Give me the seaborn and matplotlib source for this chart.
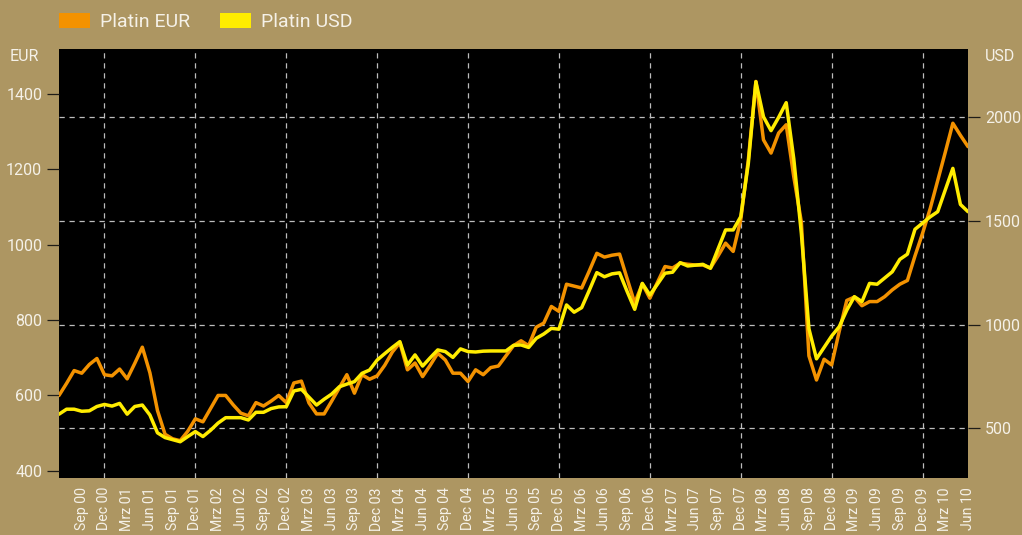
import pandas as pd
import seaborn as sns
import matplotlib.pyplot as plt
from matplotlib.patches import Patch
from matplotlib.ticker import FixedLocator

# monthly platinum prices, Jun 2000 .. Jun 2010
platin_eur = [
    600, 632, 666, 659, 682, 698, 655, 652, 670, 644, 685, 728,
    660, 560, 497, 485, 480, 505, 538, 530, 565, 600, 600, 575,
    553, 546, 581, 572, 585, 600, 581, 633, 638, 580, 551, 551,
    585, 620, 655, 606, 655, 643, 652, 680, 715, 740, 668, 686,
    650, 680, 712, 694, 659, 659, 637, 668, 655, 674, 678, 705,
    732, 745, 732, 781, 792, 836, 823, 895, 890, 885, 930, 977,
    967, 972, 975, 910, 845, 896, 858, 900, 942, 938, 951, 948,
    946, 946, 938, 970, 1004, 982, 1066, 1225, 1433, 1278, 1243, 1296,
    1318, 1180, 1060, 705, 641, 696, 681, 770, 852, 861, 838, 849,
    849, 862, 880, 895, 905, 970, 1030, 1095, 1170, 1245, 1322, 1290,
    1260,
]
platin_usd = [
    568, 592, 592, 582, 584, 605, 615, 607, 620, 568, 605, 612,
    564, 478, 455, 445, 435, 460, 484, 460, 490, 525, 551, 551,
    551, 540, 577, 577, 595, 603, 604, 680, 688, 650, 612, 640,
    665, 700, 713, 725, 765, 781, 829, 860, 890, 918, 805, 854,
    800, 840, 878, 870, 842, 883, 870, 868, 872, 873, 873, 873,
    900, 902, 890, 934, 955, 982, 978, 1095, 1060, 1082, 1165, 1251,
    1231, 1245, 1250, 1160, 1074, 1199, 1143, 1195, 1248, 1253, 1299, 1283,
    1287, 1291, 1272, 1365, 1457, 1457, 1521, 1778, 2172, 2003, 1936, 2000,
    2071, 1800, 1440, 980, 835, 890, 945, 990, 1070, 1135, 1111, 1199,
    1195, 1225, 1255, 1315, 1340, 1460, 1490, 1520, 1545, 1650, 1754, 1580,
    1545,
]
tick_labels = [
    "Sep 00", "Dec 00", "Mrz 01", "Jun 01", "Sep 01", "Dec 01", "Mrz 02", "Jun 02",
    "Sep 02", "Dec 02", "Mrz 03", "Jun 03", "Sep 03", "Dec 03", "Mrz 04", "Jun 04",
    "Sep 04", "Dec 04", "Mrz 05", "Jun 05", "Sep 05", "Dec 05", "Mrz 06", "Jun 06",
    "Sep 06", "Dec 06", "Mrz 07", "Jun 07", "Sep 07", "Dec 07", "Mrz 08", "Jun 08",
    "Sep 08", "Dec 08", "Mrz 09", "Jun 09", "Sep 09", "Dec 09", "Mrz 10", "Jun 10",
]
eur_ticks = [400, 600, 800, 1000, 1200, 1400]
usd_ticks = [500, 1000, 1500, 2000]

BG = "#ad9662"
TXT = "#f5f1e8"
ORANGE = "#f39200"
YELLOW = "#ffec00"
TICK = "#1e1c18"
GRID = "#bdbdbd"

eur_lim = (381, 1519)
usd_lim = (260, 2330)

df = pd.DataFrame({"monat": range(len(platin_eur)), "eur": platin_eur, "usd": platin_usd})

sns.set_theme(style="dark")
plt.rcParams["font.family"] = ["Roboto", "DejaVu Sans"]

fig = plt.figure(figsize=(10.22, 5.35), dpi=100, facecolor=BG)
ax = fig.add_axes([59 / 1022, 1 - 478 / 535, 909 / 1022, 429 / 535])
ax.set_facecolor("black")
ax2 = ax.twinx()

sns.lineplot(data=df, x="monat", y="eur", ax=ax, color=ORANGE, linewidth=2.5)
sns.lineplot(data=df, x="monat", y="usd", ax=ax2, color=YELLOW, linewidth=2.5)

ax.set_xlim(0, len(platin_eur) - 1)
ax.set_ylim(*eur_lim)
ax2.set_ylim(*usd_lim)
for a in (ax, ax2):
    a.set_xlabel("")
    a.set_ylabel("")
    for s in a.spines.values():
        s.set_visible(False)

# quarterly labels, December gridlines (these sit on major tick spots)
ax.set_xticks(range(3, len(platin_eur), 3))
ax.set_xticklabels(tick_labels)
ax.xaxis.remove_overlapping_locs = False
ax.xaxis.set_minor_locator(FixedLocator(range(6, len(platin_eur), 12)))

# horizontal gridlines belong to the USD scale; put them on the bottom axes
scale = (eur_lim[1] - eur_lim[0]) / (usd_lim[1] - usd_lim[0])
ax.yaxis.set_minor_locator(FixedLocator([eur_lim[0] + (u - usd_lim[0]) * scale for u in usd_ticks]))
ax.set_yticks(eur_ticks)
ax2.set_yticks(usd_ticks)

ax.grid(False, which="major")
ax2.grid(False)
ax.grid(True, which="minor", color=GRID, linewidth=0.9, linestyle=(0, (4.2, 3.8)))

ax.tick_params(axis="x", which="both", bottom=True, length=0, pad=6.5,
               labelsize=10.2, labelcolor=TXT, labelrotation=90)
ax.tick_params(axis="y", which="major", left=True, direction="out", length=8.6,
               width=0.9, color=TICK, pad=3.5, labelsize=11.5, labelcolor=TXT)
ax.tick_params(axis="y", which="minor", left=False, length=0)
ax2.tick_params(axis="y", right=True, direction="out", length=8.6,
                width=0.9, color=TICK, pad=3.5, labelsize=11.5, labelcolor=TXT)

fig.text(10 / 1022, 1 - 57 / 535, "EUR", color=TXT, fontsize=11.5, va="center", ha="left")
fig.text(985 / 1022, 1 - 57 / 535, "USD", color=TXT, fontsize=11.5, va="center", ha="left")

handles = [Patch(facecolor=ORANGE, edgecolor="none", label="Platin EUR"),
           Patch(facecolor=YELLOW, edgecolor="none", label="Platin USD")]
fig.legend(handles=handles, loc="upper left", bbox_to_anchor=(59 / 1022, 1 - 13 / 535),
           ncol=2, frameon=False, fontsize=14, labelcolor=TXT,
           handlelength=1.6, handleheight=0.8, handletextpad=0.5,
           columnspacing=1.55, borderpad=0, borderaxespad=0)

fig.savefig("out.png", dpi=100, facecolor=BG)
